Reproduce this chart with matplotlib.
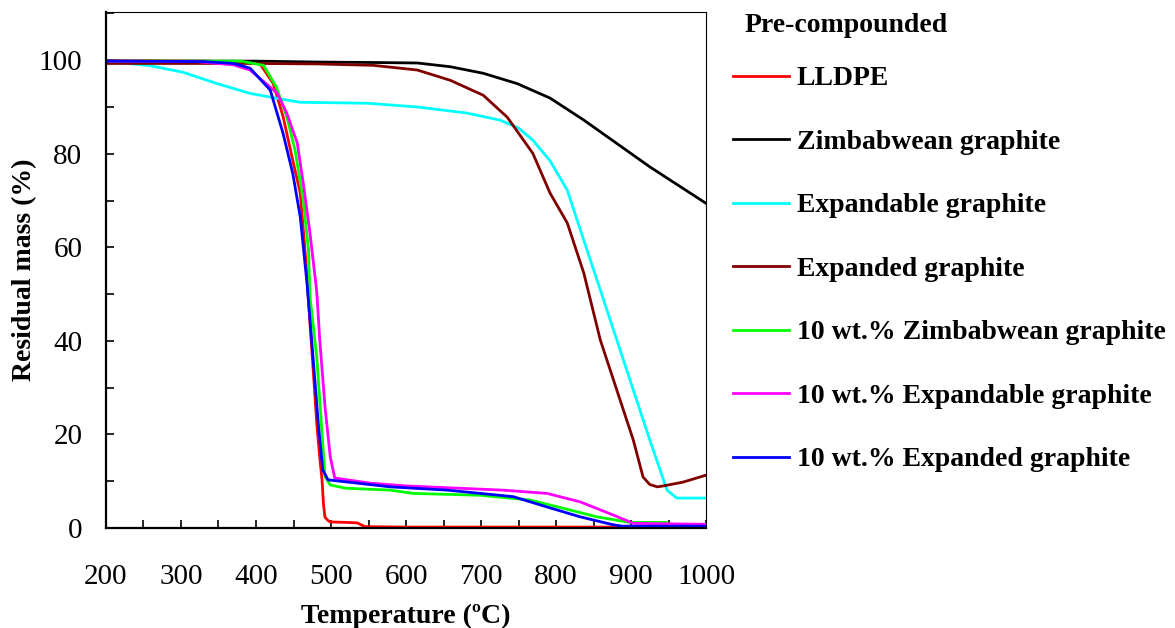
import matplotlib
matplotlib.use("Agg")
import matplotlib.pyplot as plt
from matplotlib.ticker import MultipleLocator

plt.rcParams['font.family'] = ['Liberation Serif', 'DejaVu Serif']

# values
t_lldpe = [200, 330, 380, 405, 423, 436, 449, 459, 466, 472, 477, 481, 485, 488, 490, 492, 496, 499, 520, 535, 545, 600, 700, 800, 900, 1000]
m_lldpe = [99.9, 99.8, 99.6, 99.3, 95, 88, 78.6, 71.6, 58, 43.8, 32, 22.4, 15, 10.3, 5, 2.3, 1.6, 1.3, 1.2, 1.1, 0.3, 0.2, 0.2, 0.2, 0.2, 0.2]

t_zim = [200, 400, 481, 560, 615, 659, 703, 748, 792, 837, 881, 925, 1000]
m_zim = [99.8, 99.8, 99.6, 99.5, 99.4, 98.6, 97.2, 95, 91.9, 87.2, 82.2, 77.2, 69.4]

t_expble = [200, 223, 260, 303, 348, 392, 430, 459, 548, 615, 681, 725, 750, 769, 792, 815, 837, 859, 881, 903, 925, 948, 961, 1000]
m_expble = [99.5, 99.4, 98.8, 97.4, 95, 92.9, 91.8, 91, 90.8, 90, 88.7, 87.2, 85.5, 82.9, 78.5, 72.2, 61.5, 50.9, 40.2, 29.5, 18.8, 8.1, 6.4, 6.4]

t_expded = [200, 400, 481, 556, 615, 659, 703, 735, 769, 792, 815, 837, 859, 881, 903, 916, 925, 935, 943, 969, 1000]
m_expded = [99.3, 99.3, 99.2, 98.9, 97.9, 95.7, 92.5, 87.8, 80.1, 71.6, 65.2, 54.5, 40.2, 29.5, 18.8, 10.9, 9.3, 8.8, 9.0, 9.8, 11.3]

t_10zim = [200, 380, 410, 427, 441, 452, 463, 470, 472, 481, 488, 492, 499, 520, 579, 609, 699, 765, 810, 854, 899, 948, 950, 1000]
m_10zim = [99.8, 99.8, 98.9, 94.3, 88, 80.8, 70, 59.4, 49.4, 36.5, 20.3, 11, 9.2, 8.5, 8.1, 7.4, 7.0, 6.0, 4.2, 2.4, 1.2, 1.2, 0.6, 0.6]

t_10expble = [200, 320, 370, 392, 428, 441, 455, 463, 472, 481, 485, 492, 499, 505, 552, 600, 672, 729, 788, 832, 876, 903, 1000]
m_10expble = [99.8, 99.7, 99.0, 97.9, 93, 88.7, 82.3, 73.7, 63, 50.5, 40.2, 25.9, 15.2, 10.7, 9.6, 9.0, 8.5, 8.1, 7.4, 5.6, 2.8, 1.0, 0.8]

t_10expded = [200, 330, 370, 392, 419, 436, 449, 459, 468, 476, 483, 489, 496, 579, 655, 743, 788, 832, 876, 888, 1000]
m_10expded = [99.8, 99.7, 99.3, 98.3, 93.6, 84.4, 75.8, 66.5, 52.3, 36.5, 22.4, 12.4, 10.3, 8.8, 8.1, 6.7, 4.5, 2.4, 0.7, 0.4, 0.4]

labels = ["LLDPE", "Zimbabwean graphite", "Expandable graphite", "Expanded graphite",
          "10 wt.% Zimbabwean graphite", "10 wt.% Expandable graphite", "10 wt.% Expanded graphite"]
colors = ["#ff0000", "#000000", "#00ffff", "#800000", "#00ff00", "#ff00ff", "#0000ff"]

fig = plt.figure(figsize=(11.75, 6.28), dpi=100)
ax = fig.add_axes([0.0902, 0.1592, 0.5107, 0.8217])

series = [(t_lldpe, m_lldpe), (t_zim, m_zim), (t_expble, m_expble), (t_expded, m_expded),
          (t_10zim, m_10zim), (t_10expble, m_10expble), (t_10expded, m_10expded)]
for (t, m), lab, c in zip(series, labels, colors):
    ax.plot(t, m, color=c, lw=2.0, label=lab)

ax.set_xlim(200, 1000)
ax.set_ylim(0, 110.3)
ax.xaxis.set_major_locator(MultipleLocator(100))
ax.xaxis.set_minor_locator(MultipleLocator(50))
ax.yaxis.set_major_locator(MultipleLocator(20))
ax.yaxis.set_minor_locator(MultipleLocator(10))
ax.tick_params(which='both', direction='in', length=6, width=1.2, top=False, right=False)
ax.tick_params(axis='x', which='major', labelsize=21, pad=26)
ax.tick_params(axis='y', which='major', labelsize=21, pad=17)
ax.set_yticks([0, 20, 40, 60, 80, 100])

ax.spines['left'].set_linewidth(1.6)
ax.spines['bottom'].set_linewidth(1.6)
ax.spines['top'].set_linewidth(0.8)
ax.spines['right'].set_linewidth(0.8)

ax.set_xlabel("Temperature (ºC)", fontsize=20, fontweight='bold', labelpad=10)
ax.set_ylabel("Residual mass (%)", fontsize=20, fontweight='bold', labelpad=1)

# legend title drawn on its own so the gap to the first entry matches
fig.text(745 / 1175, 1 - 32 / 628, "Pre-compounded", fontsize=20, fontweight='bold',
         ha='left', va='baseline')
leg = fig.legend(loc='upper left', bbox_to_anchor=(733 / 1175, 1 - 66 / 628), frameon=False,
                 prop={'size': 20, 'weight': 'bold'}, handlelength=2.0, handletextpad=0.3,
                 labelspacing=1.37, borderpad=0, borderaxespad=0)

fig.savefig("out.png", dpi=100)
